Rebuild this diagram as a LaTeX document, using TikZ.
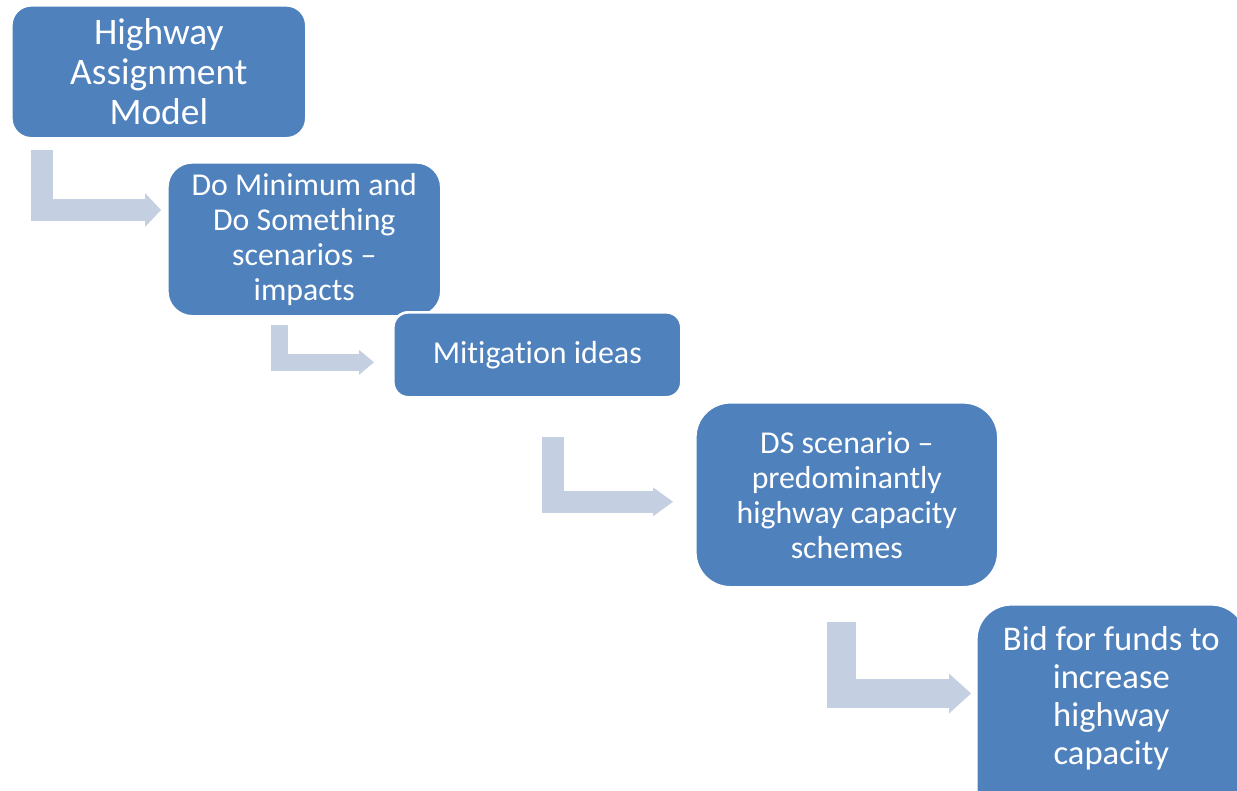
\documentclass[tikz,border=0pt]{standalone}
\usepackage{fontspec}
\setmainfont{Carlito}[Ligatures=NoCommon]
\usepackage{xcolor}
\usepackage{tikz}
\usetikzlibrary{positioning,calc,arrows.meta}
\definecolor{boxblue}{HTML}{4F81BD}
\definecolor{arrowgrey}{HTML}{C5CFE2}

\begin{document}
\begin{tikzpicture}[
    box/.style={draw=white, line width=1.5pt, fill=boxblue, text=white,
      align=center, anchor=north west, inner sep=0pt},
    bent/.style={arrowgrey, line width=#1}
  ]
  % Page frame
  \clip (0,0) rectangle (24.74,-15.82);

  % Steps
  \node[box, rounded corners=0.4cm, minimum width=5.9cm, minimum height=2.66cm,
    font=\fontsize{21.3}{22.8}\selectfont] (ham) at (0.2,-0.08)
    {Highway\\Assignment\\Model};
  \node[box, rounded corners=0.5cm, minimum width=5.48cm, minimum height=3.08cm,
    font=\fontsize{18.1}{19.9}\selectfont] (dm) at (3.32,-3.22)
    {Do Minimum and\\Do Something\\scenarios --\\impacts};
  \node[box, rounded corners=0.3cm, minimum width=5.76cm, minimum height=1.7cm,
    font=\fontsize{18.2}{19.9}\selectfont] (mit) at (7.84,-6.22)
    {Mitigation ideas};
  \node[box, rounded corners=0.7cm, minimum width=6.06cm, minimum height=3.7cm,
    font=\fontsize{18.1}{19.9}\selectfont] (ds) at (13.88,-8.02)
    {DS scenario --\\predominantly\\highway capacity\\schemes};
  \node[box, rounded corners=0.7cm, minimum width=5.4cm, minimum height=4.4cm,
    text depth=0.75cm, font=\fontsize{19.7}{21.6}\selectfont] (bid) at (19.5,-12.06)
    {Bid for funds to\\increase\\highway\\capacity};

  % Bent arrows
  \draw[bent=0.44cm, -{Triangle[length=0.32cm, width=0.68cm, line width=0pt]}]
    ($(ham.south west)+(0.64,-0.2)$) |- ($(dm.north west)+(-0.1,-0.98)$);
  \draw[bent=0.34cm, -{Triangle[length=0.3cm, width=0.5cm, line width=0pt]}]
    ($(dm.south west)+(2.27,-0.14)$) |- ($(mit.west)+(-0.36,-0.15)$);
  \draw[bent=0.44cm, -{Triangle[length=0.4cm, width=0.58cm, line width=0pt]}]
    ($(mit.south west)+(3.22,-0.76)$) |- ($(ds.west)+(-0.42,-0.14)$);
  \draw[bent=0.58cm, -{Triangle[length=0.44cm, width=0.8cm, line width=0pt]}]
    ($(ds.south west)+(2.95,-0.66)$) |- ($(bid.north west)+(-0.08,-1.81)$);
\end{tikzpicture}
\end{document}
